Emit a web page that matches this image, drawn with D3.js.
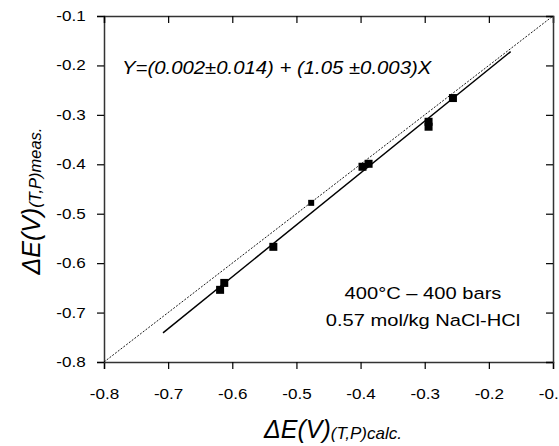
<!DOCTYPE html>
<html>
<head>
<meta charset="utf-8">
<script src="https://cdn.jsdelivr.net/npm/d3@7"></script>
<style>
	body { margin: 0; background: #fff; }
	text { font-family: Arial, "Liberation Sans", sans-serif; }
</style>
</head>
<body>
<svg id="chart" width="559" height="446"></svg>
<script>
(function(){

	// measured points: calc vs meas
	const calcValues = [-0.619, -0.6125, -0.536, -0.477, -0.397, -0.3875, -0.294, -0.294, -0.256];
	const measValues = [-0.654, -0.640, -0.567, -0.478, -0.405, -0.399, -0.314, -0.324, -0.266];
	// small marker for the one point drawn lighter
	const markerSizes = [8, 8, 8, 6, 8, 8, 8, 8, 8];

	// regression line ends and 1:1 line ends
	const fitLine = [[-0.708, -0.741], [-0.166, -0.172]];
	const identityLine = [[-0.8, -0.8], [-0.1, -0.1]];

	const tickValues = [-0.8, -0.7, -0.6, -0.5, -0.4, -0.3, -0.2, -0.1];

	const svg = d3.select("#chart");

	const left = 104, right = 553, top = 16, bottom = 362;
	// the original text is drawn a bit wide
	const stretch = "scale(1.22,1)";

	const x = d3.scaleLinear().domain([-0.8, -0.1]).range([left, right]);
	const y = d3.scaleLinear().domain([-0.8, -0.1]).range([bottom, top]);

	const fmt = function(d) { return d.toFixed(1); };

	// axes: outward on left/bottom, inward on top/right
	function styleAxis(g) {
		g.select(".domain").attr("stroke", "#333").attr("stroke-width", 1.5);
		g.selectAll(".tick line").attr("stroke", "#000").attr("stroke-width", 1.2);
		g.selectAll(".tick text").attr("fill", "#000").style("font-size", "14px")
			.attr("transform", stretch)
			.style("font-family", "Arial, 'Liberation Sans', sans-serif");
	}

	svg.append("g").attr("transform", "translate(0," + bottom + ")")
		.call(d3.axisBottom(x).tickValues(tickValues).tickFormat(fmt).tickSizeOuter(0).tickSize(7).tickPadding(20))
		.call(styleAxis);
	svg.append("g").attr("transform", "translate(" + left + ",0)")
		.call(d3.axisLeft(y).tickValues(tickValues).tickFormat(fmt).tickSizeOuter(0).tickSize(7).tickPadding(8))
		.call(styleAxis);
	svg.append("g").attr("transform", "translate(0," + top + ")")
		.call(d3.axisBottom(x).tickValues(tickValues).tickFormat("").tickSizeOuter(0).tickSize(7))
		.call(styleAxis);
	svg.append("g").attr("transform", "translate(" + right + ",0)")
		.call(d3.axisLeft(y).tickValues(tickValues).tickFormat("").tickSizeOuter(0).tickSize(7))
		.call(styleAxis);

	const line = d3.line().x(function(d) { return x(d[0]); }).y(function(d) { return y(d[1]); });

	svg.append("path").datum(identityLine)
		.attr("d", line)
		.attr("fill", "none")
		.attr("stroke", "#000")
		.attr("stroke-width", 0.9)
		.attr("stroke-dasharray", "2,1.5");

	svg.append("path").datum(fitLine)
		.attr("d", line)
		.attr("fill", "none")
		.attr("stroke", "#000")
		.attr("stroke-width", 1.5);

	const pts = calcValues.map(function(c, i) { return {x: c, y: measValues[i], s: markerSizes[i]}; });
	svg.selectAll("rect.pt").data(pts).enter().append("rect")
		.attr("class", "pt")
		.attr("x", function(d) { return x(d.x) - d.s / 2; })
		.attr("y", function(d) { return y(d.y) - d.s / 2; })
		.attr("width", function(d) { return d.s; })
		.attr("height", function(d) { return d.s; })
		.attr("fill", "#000");

	// equation
	svg.append("text")
		.attr("transform", "translate(122,74) scale(1.13,1)")
		.style("font-size", "18px").style("font-style", "italic")
		.text("Y=(0.002\u00b10.014) + (1.05 \u00b10.003)X");

	// conditions
	svg.append("text")
		.attr("transform", "translate(423,299) " + stretch).attr("text-anchor", "middle")
		.style("font-size", "16.5px")
		.text("400\u00b0C \u2013 400 bars");
	svg.append("text")
		.attr("transform", "translate(423,326) " + stretch).attr("text-anchor", "middle")
		.style("font-size", "16.5px")
		.text("0.57 mol/kg NaCl-HCl");

	// x label
	const xl = svg.append("text")
		.attr("x", 333).attr("y", 438).attr("text-anchor", "middle")
		.style("font-style", "italic");
	xl.append("tspan").style("font-size", "25px").text("\u0394E(V)");
	xl.append("tspan").style("font-size", "17px").attr("dy", 1).text("(T,P)calc.");

	// y label
	const yl = svg.append("text")
		.attr("transform", "translate(40,201) rotate(-90)")
		.attr("text-anchor", "middle")
		.style("font-style", "italic");
	yl.append("tspan").style("font-size", "25px").text("\u0394E(V)");
	yl.append("tspan").style("font-size", "16.5px").attr("dy", 1).text("(T,P)meas.");

}());
</script>
</body>
</html>
